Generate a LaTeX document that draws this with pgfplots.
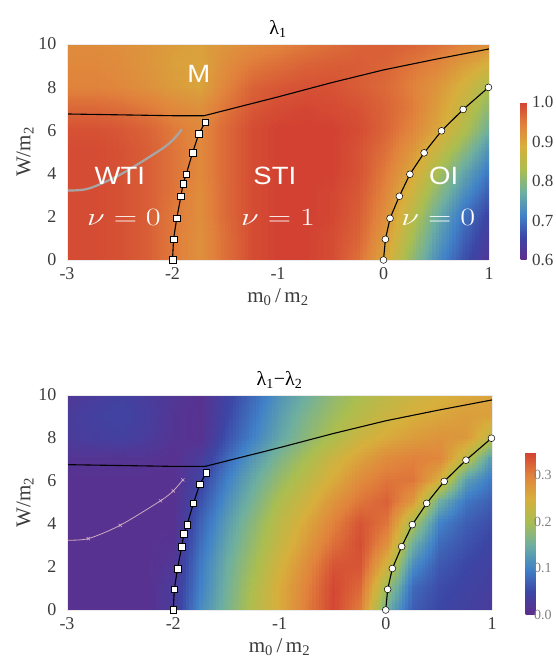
\documentclass[border=0pt]{standalone}
\usepackage{pgfplots}
\pgfplotsset{compat=1.18}
\usepgfplotslibrary{patchplots}
\usepackage{fontspec}
\setmainfont{Liberation Serif}
\newfontfamily\sansf{Liberation Sans}
\definecolor{txt}{RGB}{60,60,60}
\pgfplotsset{
  colormap={rbw}{rgb255=(95,45,140) rgb255=(60,70,165) rgb255=(65,130,200) rgb255=(110,175,160) rgb255=(170,190,80) rgb255=(215,175,60) rgb255=(225,130,60) rgb255=(210,65,50)},
  heat/.style={
    view={0}{90}, scale only axis,
    xmin=-3, xmax=1, ymin=0, ymax=10,
    xtick={-3,-2,-1,0,1}, ytick={0,2,4,6,8,10},
    /pgf/number format/assume math mode=true,
    tick label style={font=\fontsize{18}{18}\selectfont, text=txt},
    xticklabel style={yshift=-4pt},
    yticklabel style={xshift=-7pt},
    label style={font=\fontsize{21}{21}\selectfont, text=txt},
    xlabel style={yshift=-2pt},
    ylabel style={yshift=-2pt},
    title style={font=\fontsize{20}{20}\selectfont, yshift=-3pt},
    axis line style={draw=black!8},
    major tick length=0pt,
    xlabel={m\textsubscript{0}\,/\,m\textsubscript{2}},
    ylabel={W/m\textsubscript{2}},
    colormap name=rbw,
    colorbar,
  },
  cbar/.style={
    scale only axis,
    at={(parent axis.south east)}, anchor=south west,
    axis line style={draw=none}, major tick length=0pt,
    yticklabel style={font=\fontsize{17}{17}\selectfont, xshift=2pt,
      /pgf/number format/fixed, /pgf/number format/fixed zerofill,
      /pgf/number format/precision=1, /pgf/number format/assume math mode=true},
  },
  hm/.style={surf, shader=interp, patch type=bilinear, mesh/cols=17},
}
\tikzset{
  lab/.style={text=white, font=\sansf\fontsize{25}{25}\selectfont},
  nu/.style={text=white, font=\fontsize{37}{37}\selectfont},
}
\newcommand{\nux}[1]{\scalebox{1.3}[1]{$\nu=#1$}}
\newcommand{\labx}[1]{\scalebox{1.1}[1]{#1}}
\begin{document}
\begin{tikzpicture}
% ---------------- top panel ----------------
\begin{axis}[heat, at={(67pt,401pt)}, anchor=south west, width=422pt, height=216pt,
  title={λ\textsubscript{1}},
  point meta min=0.6, point meta max=1.0,
  colorbar style={cbar, width=6pt, height=158pt, xshift=23pt, yshift=0pt,
    ytick={0.6,0.7,0.8,0.9,1.0}, yticklabel style={text=txt}},
]
\addplot3[hm] coordinates {
(-3,0,0.99) (-2.75,0,0.99) (-2.5,0,0.985) (-2.25,0,0.975) (-2,0,0.95) (-1.75,0,0.925) (-1.5,0,0.96) (-1.25,0,0.99) (-1,0,1) (-0.75,0,1) (-0.5,0,0.99) (-0.25,0,0.96) (0,0,0.90) (0.25,0,0.81) (0.5,0,0.73) (0.75,0,0.67) (1,0,0.62)
(-3,1,0.99) (-2.75,1,0.99) (-2.5,1,0.985) (-2.25,1,0.975) (-2,1,0.95) (-1.75,1,0.925) (-1.5,1,0.96) (-1.25,1,0.99) (-1,1,1) (-0.75,1,1) (-0.5,1,0.99) (-0.25,1,0.97) (0,1,0.915) (0.25,1,0.83) (0.5,1,0.75) (0.75,1,0.685) (1,1,0.635)
(-3,2,0.99) (-2.75,2,0.99) (-2.5,2,0.985) (-2.25,2,0.975) (-2,2,0.95) (-1.75,2,0.93) (-1.5,2,0.965) (-1.25,2,0.99) (-1,2,1) (-0.75,2,1) (-0.5,2,0.995) (-0.25,2,0.975) (0,2,0.93) (0.25,2,0.85) (0.5,2,0.77) (0.75,2,0.70) (1,2,0.65)
(-3,3,0.99) (-2.75,3,0.99) (-2.5,3,0.985) (-2.25,3,0.975) (-2,3,0.955) (-1.75,3,0.93) (-1.5,3,0.965) (-1.25,3,0.99) (-1,3,1) (-0.75,3,1) (-0.5,3,0.995) (-0.25,3,0.98) (0,3,0.94) (0.25,3,0.875) (0.5,3,0.80) (0.75,3,0.73) (1,3,0.675)
(-3,4,0.99) (-2.75,4,0.99) (-2.5,4,0.985) (-2.25,4,0.975) (-2,4,0.955) (-1.75,4,0.935) (-1.5,4,0.965) (-1.25,4,0.99) (-1,4,1) (-0.75,4,1) (-0.5,4,1) (-0.25,4,0.985) (0,4,0.95) (0.25,4,0.90) (0.5,4,0.83) (0.75,4,0.76) (1,4,0.70)
(-3,5,0.99) (-2.75,5,0.99) (-2.5,5,0.985) (-2.25,5,0.975) (-2,5,0.955) (-1.75,5,0.935) (-1.5,5,0.965) (-1.25,5,0.99) (-1,5,1) (-0.75,5,1) (-0.5,5,1) (-0.25,5,0.985) (0,5,0.96) (0.25,5,0.92) (0.5,5,0.865) (0.75,5,0.80) (1,5,0.73)
(-3,6,0.985) (-2.75,6,0.985) (-2.5,6,0.98) (-2.25,6,0.97) (-2,6,0.95) (-1.75,6,0.935) (-1.5,6,0.965) (-1.25,6,0.99) (-1,6,1) (-0.75,6,1) (-0.5,6,1) (-0.25,6,0.99) (0,6,0.97) (0.25,6,0.94) (0.5,6,0.90) (0.75,6,0.84) (1,6,0.77)
(-3,7,0.965) (-2.75,7,0.965) (-2.5,7,0.96) (-2.25,7,0.95) (-2,7,0.935) (-1.75,7,0.925) (-1.5,7,0.955) (-1.25,7,0.98) (-1,7,0.99) (-0.75,7,0.995) (-0.5,7,0.99) (-0.25,7,0.985) (0,7,0.97) (0.25,7,0.95) (0.5,7,0.91) (0.75,7,0.86) (1,7,0.80)
(-3,8,0.94) (-2.75,8,0.94) (-2.5,8,0.935) (-2.25,8,0.925) (-2,8,0.91) (-1.75,8,0.90) (-1.5,8,0.94) (-1.25,8,0.97) (-1,8,0.98) (-0.75,8,0.985) (-0.5,8,0.985) (-0.25,8,0.975) (0,8,0.965) (0.25,8,0.945) (0.5,8,0.92) (0.75,8,0.88) (1,8,0.83)
(-3,9,0.935) (-2.75,9,0.935) (-2.5,9,0.93) (-2.25,9,0.92) (-2,9,0.905) (-1.75,9,0.90) (-1.5,9,0.93) (-1.25,9,0.95) (-1,9,0.96) (-0.75,9,0.97) (-0.5,9,0.975) (-0.25,9,0.975) (0,9,0.97) (0.25,9,0.955) (0.5,9,0.94) (0.75,9,0.91) (1,9,0.88)
(-3,10,0.93) (-2.75,10,0.93) (-2.5,10,0.925) (-2.25,10,0.92) (-2,10,0.91) (-1.75,10,0.905) (-1.5,10,0.92) (-1.25,10,0.93) (-1,10,0.94) (-0.75,10,0.95) (-0.5,10,0.96) (-0.25,10,0.97) (0,10,0.975) (0.25,10,0.97) (0.5,10,0.96) (0.75,10,0.945) (1,10,0.93)
};
% gray line
\addplot3[black!35, line width=2.2pt, smooth] coordinates {
(-3,3.22,1) (-2.8,3.3,1) (-2.5,3.94,1) (-2.12,5.08,1) (-2.0,5.54,1) (-1.91,6.05,1)};
% M boundary
\addplot3[black, line width=1.1pt] coordinates {
(-3,6.76,1) (-2.5,6.72,1) (-2,6.68,1) (-1.7,6.68,1) (-1,7.55,1) (-0.5,8.2,1) (0,8.8,1) (0.5,9.3,1) (1,9.77,1)};
% WTI-STI boundary
\addplot3[black, line width=1.1pt, mark=square*, mark size=3.3pt,
  mark options={fill=white, draw=black, line width=0.5pt}] coordinates {
(-2.0,0,1) (-1.99,0.96,1) (-1.96,1.93,1) (-1.92,2.95,1) (-1.90,3.54,1) (-1.87,3.97,1) (-1.81,4.96,1) (-1.75,5.85,1) (-1.69,6.37,1)};
% OI boundary
\addplot3[black, line width=1.1pt, mark=*, mark size=3.4pt,
  mark options={fill=white, draw=black, line width=0.5pt}] coordinates {
(0,0,1) (0.018,0.96,1) (0.062,1.93,1) (0.15,2.95,1) (0.25,3.97,1) (0.385,4.96,1) (0.55,5.98,1) (0.755,6.97,1) (0.995,7.99,1)};
\node[lab] at (axis cs:-1.75,8.6,1) {\labx{M}};
\node[lab] at (axis cs:-2.5,3.9,1) {\labx{WTI}};
\node[lab] at (axis cs:-1.03,3.9,1) {\labx{STI}};
\node[lab] at (axis cs:0.57,3.9,1) {\labx{OI}};
\node[nu] at (axis cs:-2.46,1.95,1) {\nux{0}};
\node[nu] at (axis cs:-1.0,1.95,1) {\nux{1}};
\node[nu] at (axis cs:0.52,1.95,1) {\nux{0}};
\end{axis}
% ---------------- bottom panel ----------------
\begin{axis}[heat, at={(67pt,51pt)}, anchor=south west, width=425pt, height=215pt,
  title={λ\textsubscript{1}−λ\textsubscript{2}},
  point meta min=0, point meta max=0.35,
  colorbar style={cbar, width=10pt, height=163pt, xshift=25pt, yshift=-5pt,
    ytick={0,0.1,0.2,0.3}, yticklabel style={text=black!50, font=\fontsize{14}{14}\selectfont, xshift=-7pt}},
]
\addplot3[hm] coordinates {
(-3,0,0.01) (-2.75,0,0.01) (-2.5,0,0.01) (-2.25,0,0.01) (-2,0,0.03) (-1.75,0,0.11) (-1.5,0,0.16) (-1.25,0,0.21) (-1,0,0.255) (-0.75,0,0.305) (-0.5,0,0.345) (-0.25,0,0.305) (0,0,0.15) (0.25,0,0.07) (0.5,0,0.05) (0.75,0,0.04) (1,0,0.03)
(-3,1,0.01) (-2.75,1,0.01) (-2.5,1,0.01) (-2.25,1,0.01) (-2,1,0.03) (-1.75,1,0.10) (-1.5,1,0.155) (-1.25,1,0.205) (-1,1,0.255) (-0.75,1,0.30) (-0.5,1,0.345) (-0.25,1,0.32) (0,1,0.19) (0.25,1,0.08) (0.5,1,0.055) (0.75,1,0.045) (1,1,0.035)
(-3,2,0.01) (-2.75,2,0.01) (-2.5,2,0.01) (-2.25,2,0.01) (-2,2,0.02) (-1.75,2,0.095) (-1.5,2,0.15) (-1.25,2,0.195) (-1,2,0.245) (-0.75,2,0.29) (-0.5,2,0.335) (-0.25,2,0.335) (0,2,0.24) (0.25,2,0.11) (0.5,2,0.065) (0.75,2,0.05) (1,2,0.04)
(-3,3,0.01) (-2.75,3,0.01) (-2.5,3,0.01) (-2.25,3,0.01) (-2,3,0.015) (-1.75,3,0.085) (-1.5,3,0.14) (-1.25,3,0.185) (-1,3,0.23) (-0.75,3,0.275) (-0.5,3,0.315) (-0.25,3,0.34) (0,3,0.285) (0.25,3,0.15) (0.5,3,0.08) (0.75,3,0.06) (1,3,0.045)
(-3,4,0.01) (-2.75,4,0.01) (-2.5,4,0.01) (-2.25,4,0.01) (-2,4,0.01) (-1.75,4,0.075) (-1.5,4,0.13) (-1.25,4,0.175) (-1,4,0.22) (-0.75,4,0.26) (-0.5,4,0.30) (-0.25,4,0.335) (0,4,0.31) (0.25,4,0.20) (0.5,4,0.10) (0.75,4,0.07) (1,4,0.055)
(-3,5,0.01) (-2.75,5,0.01) (-2.5,5,0.01) (-2.25,5,0.01) (-2,5,0.01) (-1.75,5,0.06) (-1.5,5,0.115) (-1.25,5,0.16) (-1,5,0.205) (-0.75,5,0.24) (-0.5,5,0.28) (-0.25,5,0.31) (0,5,0.325) (0.25,5,0.275) (0.5,5,0.15) (0.75,5,0.09) (1,5,0.07)
(-3,6,0.01) (-2.75,6,0.01) (-2.5,6,0.01) (-2.25,6,0.01) (-2,6,0.01) (-1.75,6,0.045) (-1.5,6,0.10) (-1.25,6,0.145) (-1,6,0.185) (-0.75,6,0.22) (-0.5,6,0.255) (-0.25,6,0.29) (0,6,0.31) (0.25,6,0.31) (0.5,6,0.25) (0.75,6,0.13) (1,6,0.09)
(-3,7,0.015) (-2.75,7,0.015) (-2.5,7,0.015) (-2.25,7,0.015) (-2,7,0.01) (-1.75,7,0.03) (-1.5,7,0.08) (-1.25,7,0.125) (-1,7,0.165) (-0.75,7,0.20) (-0.5,7,0.235) (-0.25,7,0.265) (0,7,0.29) (0.25,7,0.30) (0.5,7,0.295) (0.75,7,0.22) (1,7,0.12)
(-3,8,0.03) (-2.75,8,0.035) (-2.5,8,0.04) (-2.25,8,0.03) (-2,8,0.015) (-1.75,8,0.01) (-1.5,8,0.06) (-1.25,8,0.10) (-1,8,0.14) (-0.75,8,0.175) (-0.5,8,0.205) (-0.25,8,0.235) (0,8,0.255) (0.25,8,0.27) (0.5,8,0.28) (0.75,8,0.275) (1,8,0.22)
(-3,9,0.03) (-2.75,9,0.04) (-2.5,9,0.045) (-2.25,9,0.035) (-2,9,0.015) (-1.75,9,0.01) (-1.5,9,0.05) (-1.25,9,0.09) (-1,9,0.13) (-0.75,9,0.165) (-0.5,9,0.19) (-0.25,9,0.215) (0,9,0.235) (0.25,9,0.25) (0.5,9,0.26) (0.75,9,0.27) (1,9,0.265)
(-3,10,0.02) (-2.75,10,0.03) (-2.5,10,0.04) (-2.25,10,0.03) (-2,10,0.02) (-1.75,10,0.01) (-1.5,10,0.045) (-1.25,10,0.08) (-1,10,0.12) (-0.75,10,0.15) (-0.5,10,0.18) (-0.25,10,0.20) (0,10,0.22) (0.25,10,0.235) (0.5,10,0.245) (0.75,10,0.255) (1,10,0.265)
};
\addplot3[gray!70!magenta!60, line width=0.8pt, smooth] coordinates {
(-3,3.25,1) (-2.8,3.32,1) (-2.5,3.94,1) (-2.12,5.08,1) (-2.0,5.54,1) (-1.91,6.05,1)};
\addplot3[only marks, mark=x, mark size=2.2pt, gray!70!magenta!60, line width=0.6pt] coordinates {
(-2.8,3.32,1) (-2.5,3.94,1) (-2.12,5.08,1) (-2.0,5.54,1) (-1.91,6.05,1)};
\addplot3[black, line width=1.1pt] coordinates {
(-3,6.76,1) (-2.5,6.72,1) (-2,6.68,1) (-1.7,6.68,1) (-1,7.55,1) (-0.5,8.2,1) (0,8.8,1) (0.5,9.3,1) (1,9.77,1)};
\addplot3[black, line width=1.1pt, mark=square*, mark size=3.3pt,
  mark options={fill=white, draw=black, line width=0.5pt}] coordinates {
(-2.0,0,1) (-1.99,0.96,1) (-1.96,1.93,1) (-1.92,2.95,1) (-1.90,3.54,1) (-1.87,3.97,1) (-1.81,4.96,1) (-1.75,5.85,1) (-1.69,6.37,1)};
\addplot3[black, line width=1.1pt, mark=*, mark size=3.4pt,
  mark options={fill=white, draw=black, line width=0.5pt}] coordinates {
(0,0,1) (0.018,0.96,1) (0.062,1.93,1) (0.15,2.95,1) (0.25,3.97,1) (0.385,4.96,1) (0.55,5.98,1) (0.755,6.97,1) (0.995,7.99,1)};
\end{axis}
\pgfresetboundingbox
\useasboundingbox (0,0) rectangle (555pt,661pt);
\end{tikzpicture}
\end{document}
